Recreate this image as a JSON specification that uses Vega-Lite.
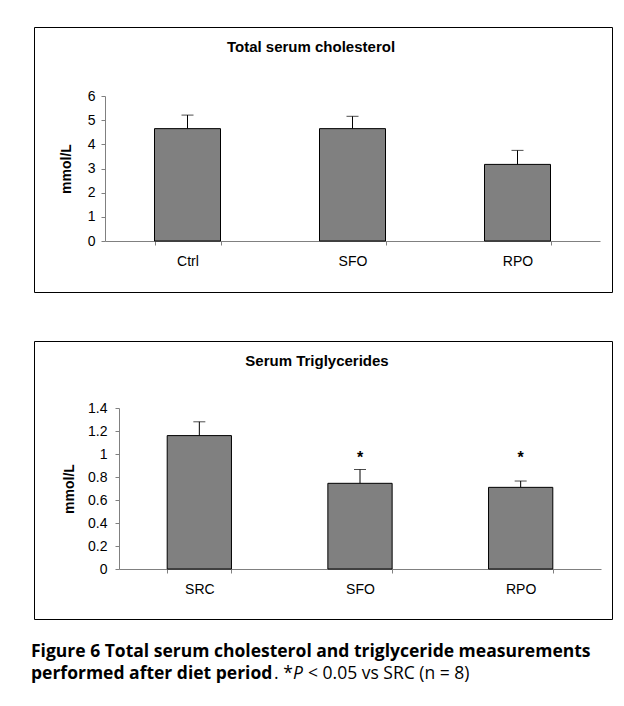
{
  "$schema": "https://vega.github.io/schema/vega-lite/v6.json",
  "padding": {"left": 31, "top": 26, "right": 0, "bottom": 0},
  "background": "white",
  "config": {
    "font": "Liberation Sans",
    "view": {"stroke": "#000000", "strokeWidth": 1},
    "axis": {
      "labelFont": "Liberation Sans", "labelFontSize": 14, "labelColor": "#000000", "labelOverlap": false,
      "titleFont": "Liberation Sans", "titleFontSize": 14, "titleFontWeight": "bold", "titleColor": "#000000",
      "domainColor": "#808080", "tickColor": "#808080", "grid": false
    },
    "title": {"font": "Liberation Sans", "fontSize": 15, "fontWeight": "bold", "color": "#000000"}
  },
  "vconcat": [
    {
      "vconcat": [
        {
          "width": 578, "height": 265,
          "title": {"text": "Total serum cholesterol", "anchor": "middle", "baseline": "middle", "offset": 0, "dy": 35, "dx": -12},
          "data": {"values": [
            {"group": "Ctrl", "mean": 4.65, "upper": 5.21},
            {"group": "SFO", "mean": 4.65, "upper": 5.16},
            {"group": "RPO", "mean": 3.17, "upper": 3.75}
          ]},
          "encoding": {
            "x": {"field": "group", "type": "nominal", "sort": null,
              "scale": {"range": [71, 566], "paddingInner": 0.6, "paddingOuter": 0.3},
              "axis": {"orient": "bottom", "offset": -51, "title": null, "labelAngle": 0, "tickBand": "extent", "tickSize": 4, "labelPadding": 9}}
          },
          "layer": [
            {"mark": {"type": "rule", "color": "#000000", "strokeWidth": 1},
             "encoding": {"y": {"field": "mean", "type": "quantitative"}, "y2": {"field": "upper"}}},
            {"mark": {"type": "tick", "color": "#000000", "size": 12, "thickness": 1},
             "encoding": {"y": {"field": "upper", "type": "quantitative"}}},
            {"mark": {"type": "bar", "color": "#808080", "stroke": "#000000", "strokeWidth": 1},
             "encoding": {"y": {"field": "mean", "type": "quantitative",
               "scale": {"domain": [0, 6], "range": [214, 69], "nice": false, "zero": true},
               "axis": {"orient": "left", "offset": -71, "values": [0, 1, 2, 3, 4, 5, 6], "tickCount": 10, "format": "~g", "labelOverlap": false, "tickSize": 4, "labelPadding": 6, "title": "mmol/L", "titlePadding": 14}}}}
          ]
        },
        {
          "width": 578, "height": 278,
          "title": {"text": "Serum Triglycerides", "anchor": "middle", "baseline": "middle", "offset": 0, "dy": 35, "dx": -6},
          "data": {"values": [
            {"group": "SRC", "mean": 1.16, "upper": 1.28, "sig": ""},
            {"group": "SFO", "mean": 0.745, "upper": 0.865, "sig": "*"},
            {"group": "RPO", "mean": 0.71, "upper": 0.765, "sig": "*"}
          ]},
          "encoding": {
            "x": {"field": "group", "type": "nominal", "sort": null,
              "scale": {"range": [85, 567], "paddingInner": 0.6, "paddingOuter": 0.3},
              "axis": {"orient": "bottom", "offset": -50, "title": null, "labelAngle": 0, "tickBand": "extent", "tickSize": 4, "labelPadding": 9}}
          },
          "layer": [
            {"mark": {"type": "rule", "color": "#000000", "strokeWidth": 1},
             "encoding": {"y": {"field": "mean", "type": "quantitative"}, "y2": {"field": "upper"}}},
            {"mark": {"type": "tick", "color": "#000000", "size": 12, "thickness": 1},
             "encoding": {"y": {"field": "upper", "type": "quantitative"}}},
            {"mark": {"type": "bar", "color": "#808080", "stroke": "#000000", "strokeWidth": 1},
             "encoding": {"y": {"field": "mean", "type": "quantitative",
               "scale": {"domain": [0, 1.4], "range": [228, 67], "nice": false, "zero": true},
               "axis": {"orient": "left", "offset": -85, "values": [0, 0.2, 0.4, 0.6, 0.8, 1, 1.2, 1.4], "tickCount": 12, "labelOverlap": false, "format": "~g", "tickSize": 4, "labelPadding": 8, "title": "mmol/L", "titlePadding": 11}}}},
            {"transform": [{"filter": "datum.sig != ''"}],
             "mark": {"type": "text", "font": "Liberation Sans", "fontSize": 16, "fontWeight": "bold", "baseline": "middle", "dy": 4},
             "encoding": {"y": {"datum": 1, "type": "quantitative"}, "text": {"field": "sig"}}}
          ]
        }
      ],
      "spacing": 47
    },
    {
      "width": 578, "height": 44,
      "view": {"stroke": null},
      "data": {"values": [{"line": 1}]},
      "encoding": {
        "x": {"datum": 0, "type": "quantitative", "scale": {"domain": [0, 1]}, "axis": null}
      },
      "layer": [
        {"mark": {"type": "text", "font": "Open Sans", "fontSize": 17.5, "fontWeight": "bold", "align": "left", "baseline": "alphabetic", "dx": -3},
         "encoding": {"y": {"datum": "1", "type": "ordinal", "scale": {"domain": ["1", "2"], "padding": 0.5}, "axis": null},
           "text": {"value": "Figure 6 Total serum cholesterol and triglyceride measurements"}}},
        {"mark": {"type": "text", "font": "Open Sans", "fontSize": 17.5, "fontWeight": "bold", "align": "left", "baseline": "alphabetic", "dx": -3},
         "encoding": {"y": {"datum": "2", "type": "ordinal"}, "text": {"value": "performed after diet period"}}},
        {"mark": {"type": "text", "font": "Open Sans", "fontSize": 17.5, "fontWeight": "normal", "align": "left", "baseline": "alphabetic", "dx": 240},
         "encoding": {"y": {"datum": "2", "type": "ordinal"}, "text": {"value": ". *"}}},
        {"mark": {"type": "text", "font": "Open Sans", "fontSize": 17.5, "fontStyle": "italic", "align": "left", "baseline": "alphabetic", "dx": 259},
         "encoding": {"y": {"datum": "2", "type": "ordinal"}, "text": {"value": "P"}}},
        {"mark": {"type": "text", "font": "Open Sans", "fontSize": 17.5, "fontWeight": "normal", "align": "left", "baseline": "alphabetic", "dx": 274},
         "encoding": {"y": {"datum": "2", "type": "ordinal"}, "text": {"value": "< 0.05 vs SRC (n = 8)"}}}
      ]
    }
  ],
  "spacing": 23
}
